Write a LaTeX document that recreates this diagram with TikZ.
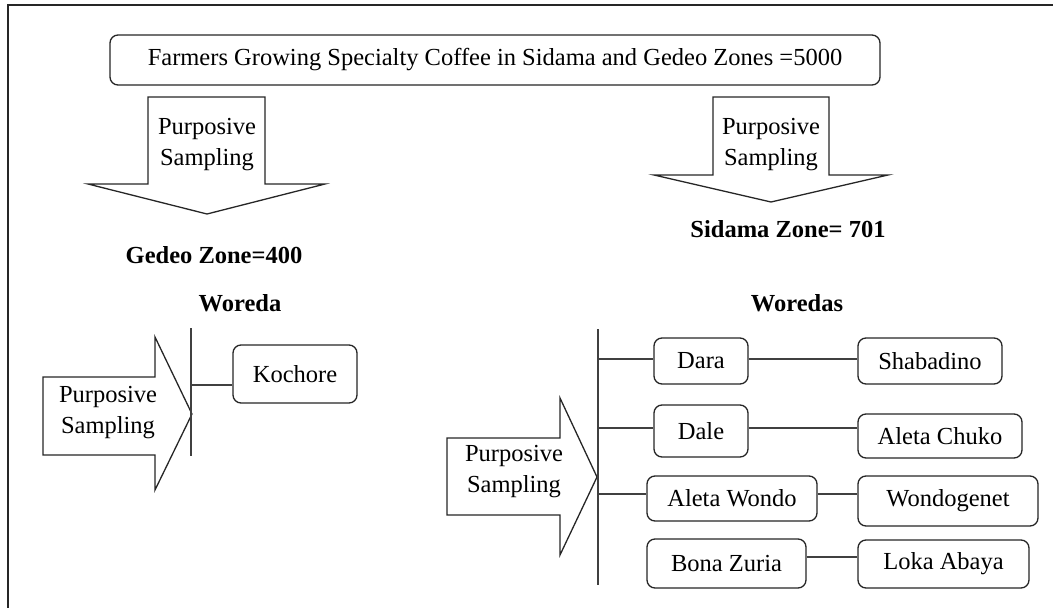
\documentclass[tikz,border=0pt]{standalone}
\usepackage{fontspec}
\setmainfont{Liberation Serif}
\begin{document}
\begin{tikzpicture}[x=1pt,y=-1pt]
\tikzset{
  box/.style={draw=black!85, line width=1.3pt, rounded corners=8pt, fill=white, inner sep=0pt, font=\fontsize{24.5}{29}\selectfont},
  arr/.style={draw=black!85, line width=1.3pt, fill=white, line join=miter},
  lbl/.style={font=\fontsize{24.5}{31}\selectfont, align=center, inner sep=0pt},
  bld/.style={font=\bfseries\fontsize{24.5}{29}\selectfont, inner sep=0pt},
  conn/.style={draw=black!75, line width=1.3pt},
  frame/.style={draw=black!85, line width=1.3pt}
}
\useasboundingbox (0,0) rectangle (1053,608);
% frame (clipped on right and bottom)
\draw[frame] (8,608) -- (8,5) -- (1053,5);

% top box
\node[box, minimum width=770pt, minimum height=50pt] (top) at (495,60)
  {Farmers Growing Specialty Coffee in Sidama and Gedeo Zones =5000};

% down arrows
\draw[arr] (148,97) -- (265,97) -- (265,184) -- (325,184) -- (207,214) -- (88,184) -- (148,184) -- cycle;
\node[lbl] (pl) at (207,145) {Purposive\\Sampling};
\draw[arr] (713,97) -- (829,97) -- (829,175) -- (888,175) -- (771,202) -- (654,175) -- (713,175) -- cycle;
\node[lbl] (pr) at (771,145) {Purposive\\Sampling};

\node[bld] (gedeo) at (214,255) {Gedeo Zone=400};
\node[bld] (sidama) at (788,229) {Sidama Zone= 701};
\node[bld] (woreda) at (240,303) {Woreda};
\node[bld] (woredas) at (797,303) {Woredas};

% left side
\draw[arr] (43,377) -- (155,377) -- (155,337) -- (192,414) -- (155,490) -- (155,455) -- (43,455) -- cycle;
\node[lbl] (pl2) at (108,413) {Purposive\\Sampling};
\coordinate (bl1) at (191,328);
\coordinate (bl2) at (191,456);
\draw[conn] (bl1) -- (bl2);
\node[box, minimum width=124pt, minimum height=58pt] (kochore) at (295,374) {Kochore};
\draw[conn] ([yshift=-11pt]kochore.west) -- ([yshift=-11pt]kochore.west -| bl1);

% right side
\draw[arr] (447,438) -- (560,438) -- (560,398) -- (597,477) -- (560,555) -- (560,515) -- (447,515) -- cycle;
\node[lbl] (pr2) at (514,472) {Purposive\\Sampling};
\coordinate (br1) at (598,329);
\coordinate (br2) at (598,585);
\draw[conn] (br1) -- (br2);

\node[box, minimum width=94pt, minimum height=46pt] (dara) at (701,361) {Dara};
\node[box, minimum width=144pt, minimum height=46pt] (shab) at (930,361) {Shabadino};
\node[box, minimum width=94pt, minimum height=52pt] (dale) at (701,431) {Dale};
\node[box, minimum width=164pt, minimum height=44pt] (achuko) at (940,436) {Aleta Chuko};
\node[box, minimum width=170pt, minimum height=45pt] (awondo) at (732,498.5) {Aleta Wondo};
\node[box, minimum width=180pt, minimum height=50pt] (wondo) at (948,501) {Wondogenet};
\node[box, minimum width=159pt, minimum height=49pt] (bona) at (726.5,563.5) {Bona Zuria};
\node[box, minimum width=171pt, minimum height=48pt] (loka) at (943.5,564) {Loka Abaya};

\draw[conn] ([yshift=2pt]dara.west -| br1) -- ([yshift=2pt]dara.west);
\draw[conn] ([yshift=3pt]dale.west -| br1) -- ([yshift=3pt]dale.west);
\draw[conn] ([yshift=4.5pt]awondo.west -| br1) -- ([yshift=4.5pt]awondo.west);

\draw[conn] ([yshift=2pt]dara.east) -- ([yshift=2pt]dara.east -| shab.west);
\draw[conn] ([yshift=3pt]dale.east) -- ([yshift=3pt]dale.east -| achuko.west);
\draw[conn] ([yshift=4.5pt]awondo.east) -- ([yshift=4.5pt]awondo.east -| wondo.west);
\draw[conn] ([yshift=6.5pt]bona.east) -- ([yshift=6.5pt]bona.east -| loka.west);
\end{tikzpicture}
\end{document}
